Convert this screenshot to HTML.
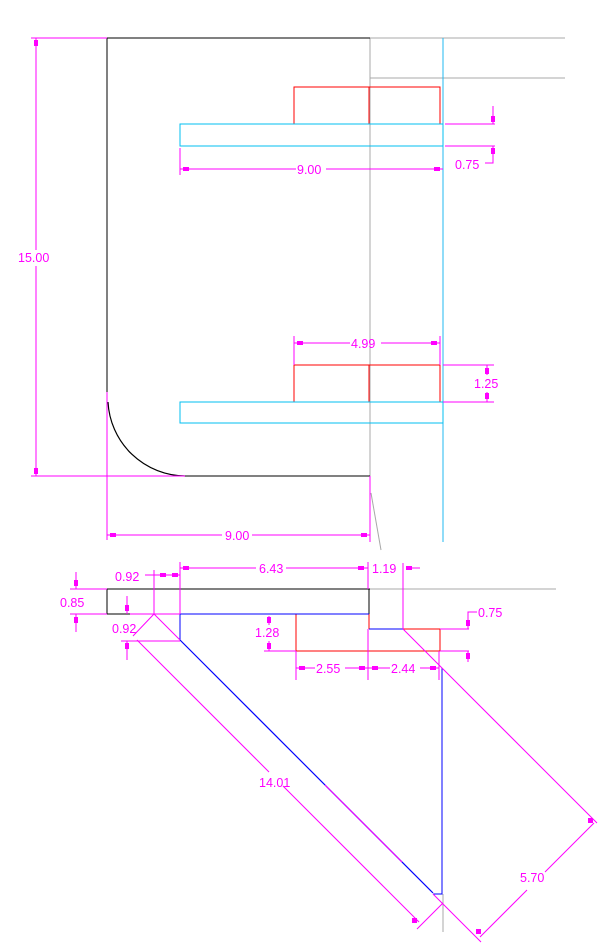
<!DOCTYPE html>
<html><head><meta charset="utf-8"><style>
html,body{margin:0;padding:0;background:#fff;}
svg{display:block;}
text{font-family:"Liberation Sans",sans-serif;font-size:12.5px;fill:#ff00ff;}
</style></head><body>
<svg width="616" height="948" viewBox="0 0 616 948" xmlns="http://www.w3.org/2000/svg" shape-rendering="crispEdges">
<rect width="616" height="948" fill="#fff"/>
<g stroke="#a8a8a8" stroke-width="1" fill="none">
<line x1="370" y1="38" x2="370" y2="540"/>
<line x1="370" y1="38" x2="565" y2="38"/>
<line x1="370" y1="78" x2="565" y2="78"/>
<path d="M371,493 L381,550" shape-rendering="auto"/>
<line x1="370" y1="589" x2="556" y2="589"/>
<line x1="443" y1="894" x2="443" y2="932"/>
</g>
<line x1="443" y1="38" x2="443" y2="542" stroke="#22b8f0" stroke-width="1"/>
<g stroke="#000" stroke-width="1.2" fill="none">
<line x1="107" y1="38" x2="370" y2="38"/>
<line x1="107" y1="38" x2="107" y2="392"/>
<path d="M108,402 A78,78 0 0 0 185,476" shape-rendering="auto"/>
<line x1="185" y1="476" x2="370" y2="476"/>
</g>
<g stroke="#ff0000" stroke-width="1.2" fill="none">
<rect x="294" y="87" width="146" height="37"/>
<line x1="369" y1="87" x2="369" y2="124"/>
<rect x="294" y="365" width="146" height="37"/>
<line x1="369" y1="365" x2="369" y2="402"/>
</g>
<g stroke="#00bff0" stroke-width="1.2" fill="none">
<rect x="180" y="124" width="263" height="22"/>
<rect x="180" y="402" width="263" height="21"/>
</g>
<g stroke="#ff00ff" stroke-width="1" fill="none">
<line x1="31" y1="38" x2="107" y2="38"/>
<line x1="31" y1="476" x2="185" y2="476"/>
<line x1="36" y1="38" x2="36" y2="250"/><line x1="36" y1="266" x2="36" y2="476"/>
<line x1="107" y1="392" x2="107" y2="540"/>
<line x1="370" y1="476" x2="370" y2="542"/>
<line x1="107" y1="535" x2="222" y2="535"/><line x1="252" y1="535" x2="370" y2="535"/>
<line x1="180" y1="148" x2="180" y2="175"/>
<line x1="180" y1="169" x2="296" y2="169"/><line x1="326" y1="169" x2="443" y2="169"/>
<line x1="445" y1="124" x2="495" y2="124"/><line x1="445" y1="146" x2="495" y2="146"/>
<line x1="493" y1="106" x2="493" y2="124"/>
<polyline points="493,146 493,163 485,163"/>
<line x1="294" y1="336" x2="294" y2="365"/><line x1="440" y1="336" x2="440" y2="365"/>
<line x1="294" y1="343" x2="350" y2="343"/><line x1="381" y1="343" x2="440" y2="343"/>
<line x1="443" y1="365" x2="494" y2="365"/><line x1="443" y1="402" x2="494" y2="402"/>
<line x1="487" y1="365" x2="487" y2="375"/><line x1="487" y1="392" x2="487" y2="402"/>
</g>
<g fill="#ff00ff">
<rect x="34" y="40" width="4" height="6"/><rect x="34" y="468" width="4" height="6"/>
<rect x="110" y="533" width="6" height="4"/><rect x="361" y="533" width="6" height="4"/>
<rect x="183" y="167" width="6" height="4"/><rect x="434" y="167" width="6" height="4"/>
<rect x="491" y="116" width="4" height="6"/><rect x="491" y="148" width="4" height="6"/>
<rect x="297" y="341" width="6" height="4"/><rect x="431" y="341" width="6" height="4"/>
<rect x="485" y="368" width="4" height="6"/><rect x="485" y="393" width="4" height="6"/>
</g>
<text x="18" y="262">15.00</text>
<text x="225" y="540">9.00</text>
<text x="297" y="174">9.00</text>
<text x="455" y="169">0.75</text>
<text x="351" y="348">4.99</text>
<text x="474" y="388">1.25</text>

<g stroke="#000" stroke-width="1.2" fill="none">
<line x1="107" y1="589" x2="370" y2="589"/>
<line x1="107" y1="589" x2="107" y2="614"/>
<line x1="107" y1="614" x2="130" y2="614"/>
<line x1="369" y1="589" x2="369" y2="614"/>
</g>
<g stroke="#ff0000" stroke-width="1.2" fill="none">
<line x1="369" y1="614" x2="369" y2="629"/>
<polyline points="403,629 440,629 440,651 296,651 296,614"/>
</g>
<g stroke="#0000ff" stroke-width="1.2" fill="none">
<line x1="180" y1="614" x2="369" y2="614"/>
<line x1="180" y1="614" x2="180" y2="640"/>
<line x1="369" y1="629" x2="403" y2="629"/>
<path d="M180,640 L433,893" shape-rendering="auto"/>
<polyline points="433,894 442,894 442,668"/>
</g>
<g stroke="#ff00ff" stroke-width="1" fill="none">
<line x1="130" y1="614" x2="180" y2="614"/>
<line x1="70" y1="589" x2="107" y2="589"/>
<line x1="70" y1="614" x2="107" y2="614"/>
<line x1="76" y1="572" x2="76" y2="589"/><line x1="76" y1="614" x2="76" y2="632"/>
<line x1="127" y1="596" x2="127" y2="614"/>
<line x1="145" y1="575" x2="180" y2="575"/>
<line x1="154" y1="570" x2="154" y2="614"/>
<line x1="180" y1="562" x2="180" y2="614"/>
<line x1="180" y1="568" x2="256" y2="568"/><line x1="286" y1="568" x2="368" y2="568"/>
<line x1="368" y1="562" x2="368" y2="589"/>
<line x1="403" y1="563" x2="403" y2="629"/>
<line x1="406" y1="568" x2="420" y2="568"/>
<line x1="121" y1="641" x2="180" y2="641"/>
<line x1="127" y1="641" x2="127" y2="660"/>
<line x1="264" y1="651" x2="296" y2="651"/>
<line x1="269" y1="616" x2="269" y2="625"/><line x1="269" y1="641" x2="269" y2="651"/>
<line x1="296" y1="651" x2="296" y2="680"/>
<line x1="368" y1="629" x2="368" y2="680"/>
<line x1="439" y1="651" x2="439" y2="680"/>
<line x1="296" y1="668" x2="315" y2="668"/><line x1="345" y1="668" x2="390" y2="668"/><line x1="420" y1="668" x2="439" y2="668"/>
<line x1="440" y1="629" x2="469" y2="629"/><line x1="440" y1="651" x2="469" y2="651"/>
<polyline points="468,629 468,612 477,612"/>
<line x1="468" y1="651" x2="468" y2="662"/>
<g shape-rendering="auto">
<path d="M154,614 L180,640"/>
<path d="M154,614 L133,636"/>
<path d="M137,640 L269,772"/>
<path d="M283,786 L419,922"/>
<path d="M417,929 L443,903"/>
<path d="M325,785 L402,862"/>
<path d="M403,629 L597,823"/>
<path d="M433,894 L481,942"/>
<path d="M480,937 L527,890"/><path d="M545,872 L594,823"/>
</g>
</g>
<g fill="#ff00ff">
<rect x="74" y="580" width="4" height="6"/><rect x="74" y="617" width="4" height="6"/>
<rect x="125" y="605" width="4" height="6"/>
<rect x="160" y="573" width="6" height="4"/><rect x="172" y="573" width="6" height="4"/>
<rect x="183" y="566" width="6" height="4"/><rect x="358" y="566" width="6" height="4"/>
<rect x="406" y="566" width="6" height="4"/>
<rect x="125" y="643" width="4" height="6"/>
<rect x="267" y="617" width="4" height="6"/><rect x="267" y="643" width="4" height="6"/>
<rect x="299" y="666" width="6" height="4"/><rect x="359" y="666" width="6" height="4"/>
<rect x="372" y="666" width="6" height="4"/><rect x="430" y="666" width="6" height="4"/>
<rect x="466" y="620" width="4" height="6"/><rect x="466" y="653" width="4" height="6"/>
<rect x="412" y="918" width="5" height="5"/><rect x="476" y="929" width="5" height="5"/>
<rect x="588" y="818" width="5" height="5"/>
</g>
<text x="60" y="607">0.85</text>
<text x="115" y="581">0.92</text>
<text x="112" y="633">0.92</text>
<text x="259" y="573">6.43</text>
<text x="372" y="573">1.19</text>
<text x="255" y="637">1.28</text>
<text x="316" y="673">2.55</text>
<text x="391" y="673">2.44</text>
<text x="478" y="617">0.75</text>
<text x="259" y="787">14.01</text>
<text x="520" y="882">5.70</text>
</svg>
</body></html>
